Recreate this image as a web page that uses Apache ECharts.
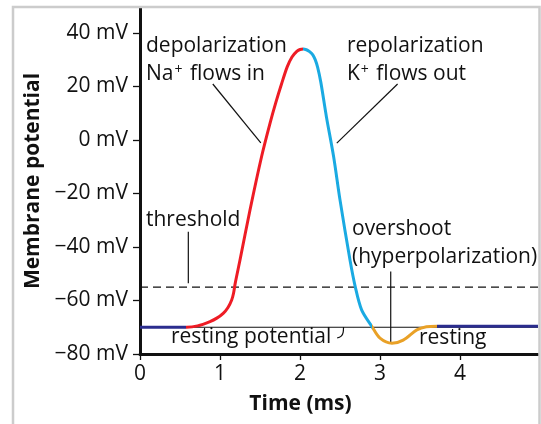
<!DOCTYPE html>
<html>
<head>
<meta charset="utf-8">
<script src="https://cdn.jsdelivr.net/npm/echarts@6/dist/echarts.min.js"></script>
<style>
  html, body { margin: 0; padding: 0; background: #fff; }
  #chart { width: 541px; height: 424px; }
</style>
</head>
<body>
<div id="chart"></div>
<script>
// ticks
const yTicks = [-80, -60, -40, -20, 0, 20, 40];
const xTicks = [0, 1, 2, 3, 4];
const xMax = 4.975;
const yMin = -80;
const yMax = 49.3;

// membrane potential trace, split by phase (ms, mV)
const restBefore = [[0, -70], [0.3, -70]];
const depolarization = [
  [0.58, -70], [0.72, -69.5], [0.875, -67.9], [0.96, -66.6], [1.04, -64.8], [1.1, -62.6],
  [1.146, -59.8], [1.17, -57.2], [1.19, -53.6], [1.25, -44.9], [1.375, -26.2],
  [1.52, -6.2], [1.625, 6.2], [1.7, 14.2], [1.77, 21.0], [1.84, 27.3], [1.9, 31.0],
  [1.96, 33.1], [2.0, 33.8]
];
const repolarization = [
  [2.04, 34.0], [2.08, 33.7], [2.12, 33.0], [2.16, 31.8], [2.19, 30.0], [2.22, 27.2],
  [2.26, 21.6], [2.33, 8.7], [2.42, -6.2], [2.5, -22.4], [2.625, -44.9], [2.69, -54.8],
  [2.77, -63.5]
];
const overshoot = [
  [2.9, -69.8], [3.0, -74.1], [3.15, -76], [3.29, -74.8], [3.46, -71], [3.58, -69.8]
];
const restAfter = [[3.71, -69.6], [4.2, -69.6], [xMax, -69.6]];
// where the colour of the trace changes (ms)
const phaseBreaks = [0.58, 2.04, 2.9, 3.71];

// reference levels
const restingLevel = [[0, -70], [xMax, -70]];
const thresholdLevel = [[0, -55], [xMax, -55]];

// leader lines for the labels (ms, mV)
const leaderDepol = [[0.91, 20.9], [1.51, -1.1]];
const leaderRepol = [[3.22, 20.9], [2.46, -1.2]];
const leaderThreshold = [[0.604, -34.3], [0.604, -53.6]];
const leaderOvershoot = [[3.134, -49.2], [3.134, -76]];
const leaderResting = [[2.544, -69.9], [2.54, -71.8], [2.515, -73.3], [2.465, -74.0]];

const NAVY = '#2b2d8e', RED = '#ee1c25', BLUE = '#1aaae2', GOLD = '#e9a127';
const FONT = '"Open Sans", "DejaVu Sans", sans-serif';

const trace = [].concat(restBefore, depolarization, repolarization, overshoot, restAfter);

function line(data, color, width, extra) {
  return Object.assign({
    type: 'line', data: data, showSymbol: false, silent: true,
    lineStyle: { color: color, width: width }, z: 3
  }, extra || {});
}

function label(text, x, baseline, bold) {
  return {
    type: 'text', x: x, y: baseline - 7, silent: true,
    style: {
      text: text, fill: '#111',
      font: (bold ? 'bold ' : '') + '21px ' + FONT,
      textAlign: 'left', textVerticalAlign: 'middle',
      rich: {
        sup: { fontSize: 14, fontFamily: FONT, fill: '#111', verticalAlign: 'top', padding: [0, 2, 0, 1] }
      }
    }
  };
}

const chart = echarts.init(document.getElementById('chart'));
chart.setOption({
  animation: false,
  backgroundColor: '#fff',
  grid: { left: 140, top: 8, width: 398, height: 346 },
  xAxis: {
    type: 'value', min: 0, max: xMax,
    axisLine: { show: true, onZero: false, lineStyle: { color: '#111', width: 3 } },
    axisTick: { show: true, customValues: xTicks, length: 6, lineStyle: { color: '#111', width: 1.3 } },
    axisLabel: { customValues: xTicks, margin: 10, color: '#111', fontSize: 21, fontFamily: FONT },
    splitLine: { show: false }
  },
  yAxis: {
    type: 'value', min: yMin, max: yMax,
    name: 'Membrane potential', nameLocation: 'middle', nameGap: 93,
    nameTextStyle: { color: '#111', fontSize: 21, fontWeight: 'bold', fontFamily: FONT },
    axisLine: { show: true, onZero: false, lineStyle: { color: '#111', width: 3 } },
    axisTick: { show: true, customValues: yTicks, length: 7, lineStyle: { color: '#111', width: 1.3 } },
    axisLabel: {
      customValues: yTicks, margin: 12, color: '#111', fontSize: 21, fontFamily: FONT,
      formatter: v => (v < 0 ? '\u2212' + (-v) : v) + ' mV'
    },
    splitLine: { show: false }
  },
  visualMap: {
    type: 'piecewise', show: false, dimension: 0, seriesIndex: 2,
    pieces: [
      { lt: phaseBreaks[0], color: NAVY },
      { gte: phaseBreaks[0], lt: phaseBreaks[1], color: RED },
      { gte: phaseBreaks[1], lt: phaseBreaks[2], color: BLUE },
      { gte: phaseBreaks[2], lt: phaseBreaks[3], color: GOLD },
      { gte: phaseBreaks[3], color: NAVY }
    ]
  },
  series: [
    line(restingLevel, '#111', 1.2, { z: 2 }),
    line(thresholdLevel, '#111', 1.2, { z: 2, lineStyle: { color: '#111', width: 1.2, type: [8, 5] } }),
    {
      type: 'line', data: trace, showSymbol: false, silent: true, z: 3,
      smooth: 0.3, lineStyle: { width: 3 }
    },
    line(leaderDepol, '#111', 1.2),
    line(leaderRepol, '#111', 1.2),
    line(leaderThreshold, '#111', 1.2),
    line(leaderOvershoot, '#111', 1.2, { z: 2 }),
    line(leaderResting, '#111', 1.2, { smooth: 0.5 })
  ],
  graphic: [
    {
      type: 'rect', silent: true, z: 100,
      shape: { x: 13, y: 7, width: 526.5, height: 440 },
      style: { fill: 'none', stroke: '#cccccc', lineWidth: 2.5 }
    },
    label('depolarization', 146, 53),
    label('Na{sup|+} flows in', 146, 81),
    label('repolarization', 347, 53),
    label('K{sup|+} flows out', 347, 81),
    label('threshold', 146, 227),
    label('overshoot', 352, 236),
    label('(hyperpolarization)', 352, 264),
    label('resting potential', 171, 344),
    label('resting', 419, 345),
    {
      type: 'text', x: 300.5, y: 404, silent: true,
      style: {
        text: 'Time (ms)', fill: '#111', font: 'bold 21px ' + FONT,
        textAlign: 'center', textVerticalAlign: 'middle'
      }
    }
  ]
});
</script>
</body>
</html>
